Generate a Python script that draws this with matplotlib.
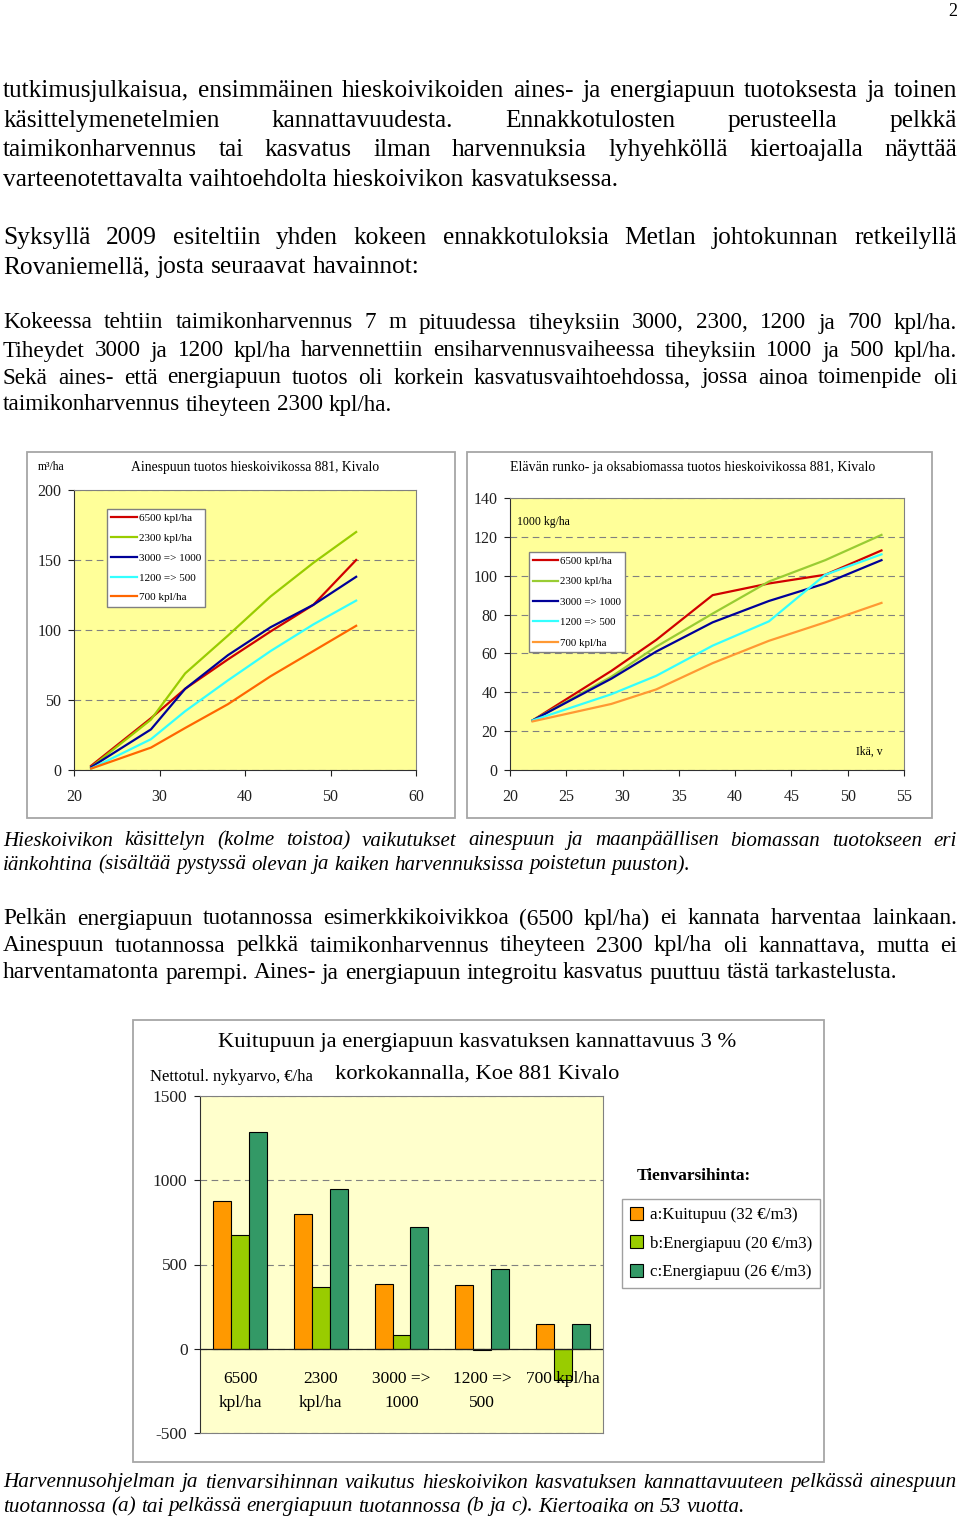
import matplotlib
matplotlib.use('Agg')
import matplotlib.pyplot as plt
import numpy as np
from matplotlib.patches import Rectangle, Patch

W, H = 960, 1517
plt.rcParams['font.family'] = ['Liberation Serif', 'DejaVu Sans']
plt.rcParams['axes.unicode_minus'] = False

# --- data ---
series_labels = ['6500 kpl/ha', '2300 kpl/ha', '3000 => 1000', '1200 => 500', '700 kpl/ha']
ages = [22, 29, 33, 38, 43, 48, 53]

# ainespuun tuotos, m3/ha
vol_6500 = [3, 37, 58, 79, 99, 118, 150]
vol_2300 = [2, 36, 69, 96, 124, 148, 170]
vol_3000 = [2, 29, 58, 82, 102, 118, 138]
vol_1200 = [1, 22, 42, 64, 85, 104, 121]
vol_700 = [1, 16, 30, 47, 67, 85, 103]

# elävä runko- ja oksabiomassa, 1000 kg/ha
bio_6500 = [25.5, 51, 67, 90, 96, 100.5, 113]
bio_2300 = [25.5, 48, 63.5, 80.5, 97, 108, 121]
bio_3000 = [25.5, 47, 61, 76, 87, 96, 108]
bio_1200 = [25.5, 39, 48.5, 64, 76.5, 100.5, 111]
bio_700 = [25, 34, 41.5, 55, 66.5, 76, 86]

# nettotulojen nykyarvo, EUR/ha
npv_labels = ['6500\nkpl/ha', '2300\nkpl/ha', '3000 =>\n1000', '1200 =>\n500', '700 kpl/ha']
npv_a = [875, 802, 384, 376, 146]
npv_b = [677, 366, 79, -6, -188]
npv_c = [1286, 950, 720, 471, 146]
price_labels = ['a:Kuitupuu (32 €/m3)', 'b:Energiapuu (20 €/m3)', 'c:Energiapuu (26 €/m3)']

para1 = ["tutkimusjulkaisua, ensimmäinen hieskoivikoiden aines- ja energiapuun tuotoksesta ja toinen",
         "käsittelymenetelmien kannattavuudesta. Ennakkotulosten perusteella pelkkä",
         "taimikonharvennus tai kasvatus ilman harvennuksia lyhyehköllä kiertoajalla näyttää",
         "varteenotettavalta vaihtoehdolta hieskoivikon kasvatuksessa."]
para2 = ["Syksyllä 2009 esiteltiin yhden kokeen ennakkotuloksia Metlan johtokunnan retkeilyllä",
         "Rovaniemellä, josta seuraavat havainnot:"]
para3 = ["Kokeessa tehtiin taimikonharvennus 7 m pituudessa tiheyksiin 3000, 2300, 1200 ja 700 kpl/ha.",
         "Tiheydet 3000 ja 1200 kpl/ha harvennettiin ensiharvennusvaiheessa tiheyksiin 1000 ja 500 kpl/ha.",
         "Sekä aines- että energiapuun tuotos oli korkein kasvatusvaihtoehdossa, jossa ainoa toimenpide oli",
         "taimikonharvennus tiheyteen 2300 kpl/ha."]
caption1 = ["Hieskoivikon käsittelyn (kolme toistoa) vaikutukset ainespuun ja maanpäällisen biomassan tuotokseen eri",
            "iänkohtina (sisältää pystyssä olevan ja kaiken harvennuksissa poistetun puuston)."]
para4 = ["Pelkän energiapuun tuotannossa esimerkkikoivikkoa (6500 kpl/ha) ei kannata harventaa lainkaan.",
         "Ainespuun tuotannossa pelkkä taimikonharvennus tiheyteen 2300 kpl/ha oli kannattava, mutta ei",
         "harventamatonta parempi. Aines- ja energiapuun integroitu kasvatus puuttuu tästä tarkastelusta."]
caption2 = ["Harvennusohjelman ja tienvarsihinnan vaikutus hieskoivikon kasvatuksen kannattavuuteen pelkässä ainespuun",
            "tuotannossa (a) tai pelkässä energiapuun tuotannossa (b ja c). Kiertoaika on 53 vuotta."]

fig = plt.figure(figsize=(W / 100, H / 100), dpi=100)
renderer = fig.canvas.get_renderer()


def fx(x):
    return x / W


def fy(y):
    return 1 - y / H


def measure(s, size, style):
    t = fig.text(0, 0, s, fontsize=size, style=style)
    w = t.get_window_extent(renderer).width
    t.remove()
    return w


def put_line(y, line, size, style, justify, x0=3, x1=957):
    words = line.split()
    arts = [fig.text(fx(x0), fy(y), w, fontsize=size, style=style, va='center') for w in words]
    widths = [a.get_window_extent(renderer).width for a in arts]
    if justify and len(words) > 1:
        gap = (x1 - x0 - sum(widths)) / (len(words) - 1)
    else:
        gap = measure('a a', size, style) - measure('aa', size, style)
    x = x0
    for a, w in zip(arts, widths):
        a.set_x(fx(x))
        x += w + gap


def paragraph(lines, ys, last_end, style='normal', size=18.0):
    # size the font so the ragged last line ends where it does on the page
    size = size * (last_end - 3) / measure(lines[-1], size, style)
    widest = max(measure(l, size, style) for l in lines[:-1])
    if widest > 952:
        size *= 952 / widest
    for i, (line, y) in enumerate(zip(lines, ys)):
        put_line(y, line, size, style, justify=i < len(lines) - 1)


fig.text(fx(957), fy(12), '2', fontsize=13, ha='right', va='center')
paragraph(para1, [91, 121, 150, 180], 620)
paragraph(para2, [238, 267], 420)
paragraph(para3, [323, 351, 378, 405], 393)
paragraph(caption1, [841, 865], 693, style='italic')
paragraph(para4, [919, 946, 973], 893)
paragraph(caption2, [1483, 1507], 743, style='italic')


def frame(x0, y0, x1, y1):
    fig.add_artist(Rectangle((fx(x0), fy(y1)), (x1 - x0) / W, (y1 - y0) / H,
                             transform=fig.transFigure, fill=False, ec='#A6A6A6', lw=1.3))


def style_axes(ax, bg):
    ax.set_facecolor(bg)
    for s in ['top', 'right']:
        ax.spines[s].set_color('#808080')
    for s in ['left', 'bottom']:
        ax.spines[s].set_color('#303030')
    ax.yaxis.grid(True, ls=(0, (6, 4)), color='#808080', lw=0.8)
    ax.set_axisbelow(True)
    ax.tick_params(direction='out', length=4, labelsize=11.5, colors='#202020')
    ax.tick_params(axis='x', pad=10)
    ax.tick_params(axis='y', pad=5)


line_colors1 = ['#D00000', '#99CC00', '#000099', '#33FFFF', '#FF6600']
line_colors2 = ['#D00000', '#99CC33', '#000099', '#33FFFF', '#FF9933']

# --- chart 1: ainespuun tuotos ---
frame(27, 452, 455, 818)
ax1 = fig.add_axes([fx(74), fy(770), (416 - 74) / W, (770 - 490) / H])
style_axes(ax1, '#FFFF99')
for vals, c, lab in zip([vol_6500, vol_2300, vol_3000, vol_1200, vol_700], line_colors1, series_labels):
    ax1.plot(ages, vals, color=c, lw=1.6, label=lab)
ax1.set_xlim(20, 60)
ax1.set_ylim(0, 200)
ax1.set_xticks(range(20, 61, 10))
ax1.set_yticks(range(0, 201, 50))
ax1.legend(loc='upper left', bbox_to_anchor=(fx(107), fy(509)), bbox_transform=fig.transFigure,
           fancybox=False, edgecolor='#808080', framealpha=1, fontsize=8, handlelength=2.3,
           handletextpad=0.15, labelspacing=0.9, borderpad=0.4, borderaxespad=0)
fig.text(fx(255), fy(467), 'Ainespuun tuotos hieskoivikossa 881, Kivalo', fontsize=9.8, ha='center', va='center')
fig.text(fx(38), fy(467), 'm³/ha', fontsize=8.5, va='center')

# --- chart 2: biomassa ---
frame(467, 452, 932, 818)
ax2 = fig.add_axes([fx(510), fy(770), (904 - 510) / W, (770 - 498) / H])
style_axes(ax2, '#FFFF99')
for vals, c, lab in zip([bio_6500, bio_2300, bio_3000, bio_1200, bio_700], line_colors2, series_labels):
    ax2.plot(ages, vals, color=c, lw=1.6, label=lab)
ax2.set_xlim(20, 55)
ax2.set_ylim(0, 140)
ax2.set_xticks(range(20, 56, 5))
ax2.set_yticks(range(0, 141, 20))
ax2.legend(loc='upper left', bbox_to_anchor=(fx(529), fy(552)), bbox_transform=fig.transFigure,
           fancybox=False, edgecolor='#808080', framealpha=1, fontsize=7.8, handlelength=2.3,
           handletextpad=0.15, labelspacing=1.0, borderpad=0.4, borderaxespad=0)
fig.text(fx(693), fy(467), 'Elävän runko- ja oksabiomassa tuotos hieskoivikossa 881, Kivalo',
         fontsize=10, ha='center', va='center')
fig.text(fx(517), fy(522), '1000 kg/ha', fontsize=8.5, va='center')
fig.text(fx(883), fy(752), 'Ikä, v', fontsize=8.5, ha='right', va='center')

# --- chart 3: kannattavuus ---
frame(133, 1020, 824, 1462)
ax3 = fig.add_axes([fx(200), fy(1433), (603 - 200) / W, (1433 - 1096) / H])
style_axes(ax3, '#FFFFCC')
ax3.tick_params(labelsize=12.5)
x = np.arange(len(npv_labels))
bw = 0.223
bar_colors = ['#FF9900', '#99CC00', '#339966']
for k, (vals, c) in enumerate(zip([npv_a, npv_b, npv_c], bar_colors)):
    ax3.bar(x + (k - 1) * bw, vals, bw, color=c, edgecolor='black', lw=0.8, zorder=2)
ax3.axhline(0, color='#202020', lw=0.9, zorder=3)
ax3.set_xlim(-0.5, len(npv_labels) - 0.5)
ax3.set_ylim(-500, 1500)
ax3.set_yticks(range(-500, 1501, 500))
ax3.set_xticks([])
ax3.spines['bottom'].set_color('#808080')
for i, lab in enumerate(npv_labels):
    ax3.text(i, -135, lab, ha='center', va='top', fontsize=12.5, linespacing=1.6, zorder=4)
handles = [Patch(facecolor=c, edgecolor='black', lw=0.8) for c in bar_colors]
ax3.legend(handles, price_labels, loc='upper left', bbox_to_anchor=(fx(622), fy(1199)),
           bbox_transform=fig.transFigure, fancybox=False, edgecolor='#A0A0A0', framealpha=1,
           fontsize=12.2, handlelength=0.8, handleheight=0.8, handletextpad=0.4,
           labelspacing=0.72, borderpad=0.45, borderaxespad=0)
fig.text(fx(477), fy(1043), 'Kuitupuun ja energiapuun kasvatuksen kannattavuus 3 %',
         fontsize=16.2, ha='center', va='center')
fig.text(fx(477), fy(1074), 'korkokannalla, Koe 881 Kivalo', fontsize=16.2, ha='center', va='center')
fig.text(fx(150), fy(1077), 'Nettotul. nykyarvo, €/ha', fontsize=12, va='center')
fig.text(fx(637), fy(1176), 'Tienvarsihinta:', fontsize=12.5, fontweight='bold', va='center')

fig.savefig('out.png', dpi=100)
